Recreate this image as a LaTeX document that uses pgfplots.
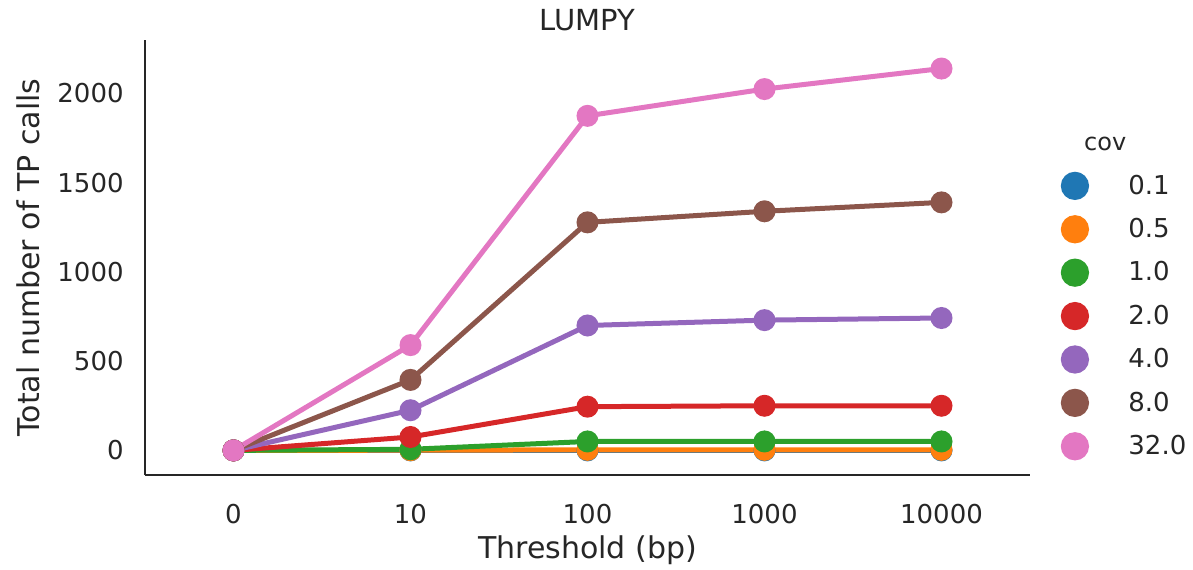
\documentclass[border=0pt]{standalone}
\usepackage{fontspec}
\setmainfont{DejaVu Sans}
\usepackage{pgfplots}
\pgfplotsset{compat=1.18}
\definecolor{c1}{HTML}{1F77B4}
\definecolor{c2}{HTML}{FF7F0E}
\definecolor{c3}{HTML}{2CA02C}
\definecolor{c4}{HTML}{D62728}
\definecolor{c5}{HTML}{9467BD}
\definecolor{c6}{HTML}{8C564B}
\definecolor{c7}{HTML}{E377C2}
\definecolor{txt}{HTML}{262626}
\begin{document}
\begin{tikzpicture}
\begin{axis}[
  scale only axis, width=442.5pt, height=217.5pt,
  xmin=-0.5, xmax=4.5, ymin=-138, ymax=2300,
  clip=false,
  axis x line*=bottom, axis y line*=left,
  axis line style={-, line width=1.25pt, color=txt},
  xtick={0,1,2,3,4}, xticklabels={0,10,100,1000,10000},
  ytick={0,500,1000,1500,2000},
  scaled y ticks=false,
  /pgf/number format/1000 sep={},
  /pgf/number format/assume math mode=true,
  major tick length=0pt,
  tick style={draw=none},
  tick label style={font=\fontsize{13}{15}\selectfont, color=txt, inner sep=0pt},
  yticklabel style={anchor=east, xshift=-10.5pt},
  xticklabel style={anchor=north, yshift=-14.5pt},
  xlabel={Threshold (bp)}, ylabel={Total number of TP calls},
  label style={font=\fontsize{15}{18}\selectfont, color=txt, inner sep=0pt},
  xlabel style={at={(axis description cs:0.5,-0.1379)}, anchor=north},
  ylabel style={at={(axis description cs:-0.1187,0.5)}, anchor=south},
  title={LUMPY},
  every axis title shift=0pt,
  title style={at={(axis description cs:0.5,1.023)}, anchor=base, inner sep=0pt, font=\fontsize{14.5}{17}\selectfont, color=txt},
  every axis plot/.append style={line width=2.5pt, mark=*, mark size=5pt, mark options={solid, line width=1pt}},
  legend style={draw=none, fill=none, at={(axis description cs:1.0344,0.698)}, anchor=north west, inner sep=0pt, row sep=7.6pt, font=\fontsize{13}{15}\selectfont, text=txt, nodes={inner sep=0pt}, /tikz/every odd column/.append style={column sep=19.7pt}},
  legend cell align=left,
  legend image code/.code={\fill (0pt,0pt) circle (5.8pt);},
]
\addplot[color=c1] coordinates {(0,0) (1,0) (2,0) (3,0) (4,0)};
\addplot[color=c2] coordinates {(0,0) (1,1) (2,3) (3,3) (4,3)};
\addplot[color=c3] coordinates {(0,0) (1,6) (2,50) (3,50) (4,50)};
\addplot[color=c4] coordinates {(0,0) (1,75) (2,245) (3,250) (4,250)};
\addplot[color=c5] coordinates {(0,0) (1,225) (2,700) (3,730) (4,742)};
\addplot[color=c6] coordinates {(0,0) (1,395) (2,1278) (3,1340) (4,1390)};
\addplot[color=c7] coordinates {(0,0) (1,590) (2,1875) (3,2025) (4,2140)};
\legend{0.1,0.5,1.0,2.0,4.0,8.0,32.0}
\node[anchor=base, font=\fontsize{12}{14}\selectfont, text=txt] at (axis description cs:1.085,0.747) {cov};
\end{axis}
\pgfresetboundingbox
\path[use as bounding box] (-72.5pt,-47pt) rectangle (524pt,237.5pt);
\end{tikzpicture}
\end{document}
